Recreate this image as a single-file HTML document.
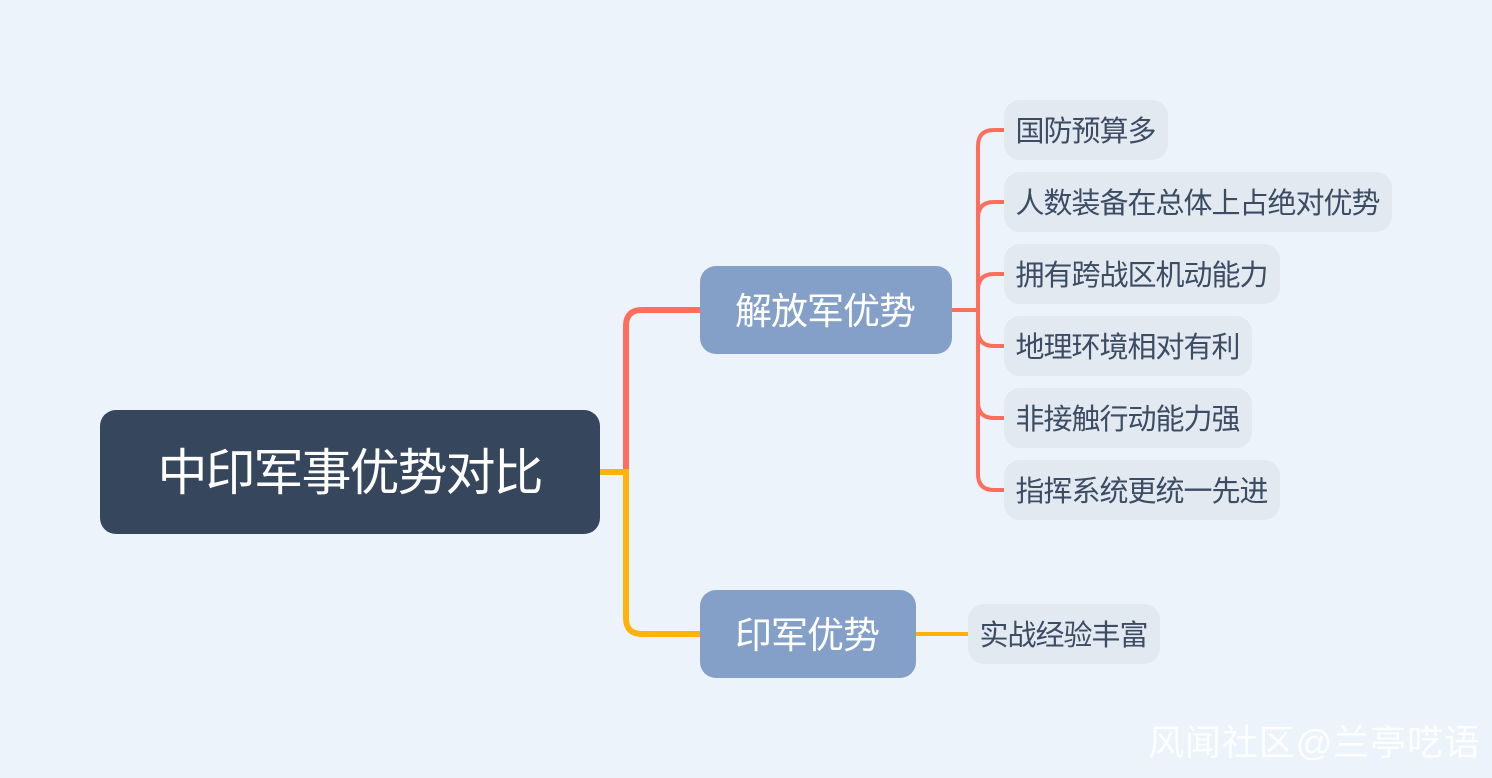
<!DOCTYPE html>
<html lang="zh-CN">
<head>
<meta charset="utf-8">
<style>
html,body{margin:0;padding:0;width:1492px;height:778px;overflow:hidden;background:#ecf3fa;}
svg{display:block;position:absolute;left:0;top:0;}
text{font-family:"Liberation Sans","Noto Sans CJK SC",sans-serif;}
</style>
</head>
<body>
<svg width="1492" height="778" viewBox="0 0 1492 778" xmlns="http://www.w3.org/2000/svg">
<rect width="1492" height="778" fill="#ecf3fa"/>
<g fill="none" stroke="#ff6e5c" stroke-width="6">
<path d="M626 472V326Q626 310 642 310H700"/>
</g>
<g fill="none" stroke="#ffb30a" stroke-width="6">
<path d="M600 472H626V618Q626 634 642 634H700"/>
</g>
<g fill="none" stroke="#ff6e5c" stroke-width="4">
<path d="M952 310H978"/>
<path d="M1004 130H994Q978 130 978 146V474Q978 490 994 490H1004"/>
<path d="M1004 202H994Q978 202 978 218"/>
<path d="M1004 274H994Q978 274 978 290"/>
<path d="M1004 346H994Q978 346 978 330"/>
<path d="M1004 418H994Q978 418 978 402"/>
</g>
<path d="M916 634H968" fill="none" stroke="#ffb30a" stroke-width="4"/>

<rect x="100" y="410" width="500" height="124" rx="16" fill="#36465d"/>
<rect x="700" y="266" width="252" height="88" rx="16" fill="#84a0c8"/>
<rect x="700" y="590" width="216" height="88" rx="16" fill="#84a0c8"/>
<g fill="#e3e9f1">
<rect x="1004" y="100" width="164" height="60" rx="16"/>
<rect x="1004" y="172" width="388" height="60" rx="16"/>
<rect x="1004" y="244" width="276" height="60" rx="16"/>
<rect x="1004" y="316" width="248" height="60" rx="16"/>
<rect x="1004" y="388" width="248" height="60" rx="16"/>
<rect x="1004" y="460" width="276" height="60" rx="16"/>
<rect x="968" y="604" width="192" height="60" rx="16"/>
</g>

<text x="157.5" y="490" font-size="50" letter-spacing="-2" fill="#ffffff">中印军事优势对比</text>
<text x="735" y="324" font-size="37" letter-spacing="-1" fill="#ffffff">解放军优势</text>
<text x="735" y="648" font-size="37" letter-spacing="-1" fill="#ffffff">印军优势</text>
<g font-size="29" letter-spacing="-1" fill="#3c4c63">
<text x="1015.5" y="141">国防预算多</text>
<text x="1015.5" y="213">人数装备在总体上占绝对优势</text>
<text x="1015.5" y="285">拥有跨战区机动能力</text>
<text x="1015.5" y="357">地理环境相对有利</text>
<text x="1015.5" y="429">非接触行动能力强</text>
<text x="1015.5" y="501">指挥系统更统一先进</text>
<text x="979.5" y="645">实战经验丰富</text>
</g>
<text x="1148" y="755" font-size="36" fill="#ffffff" fill-opacity="0.85" textLength="332" lengthAdjust="spacing">风闻社区@兰亭呓语</text>
</svg>
</body>
</html>
